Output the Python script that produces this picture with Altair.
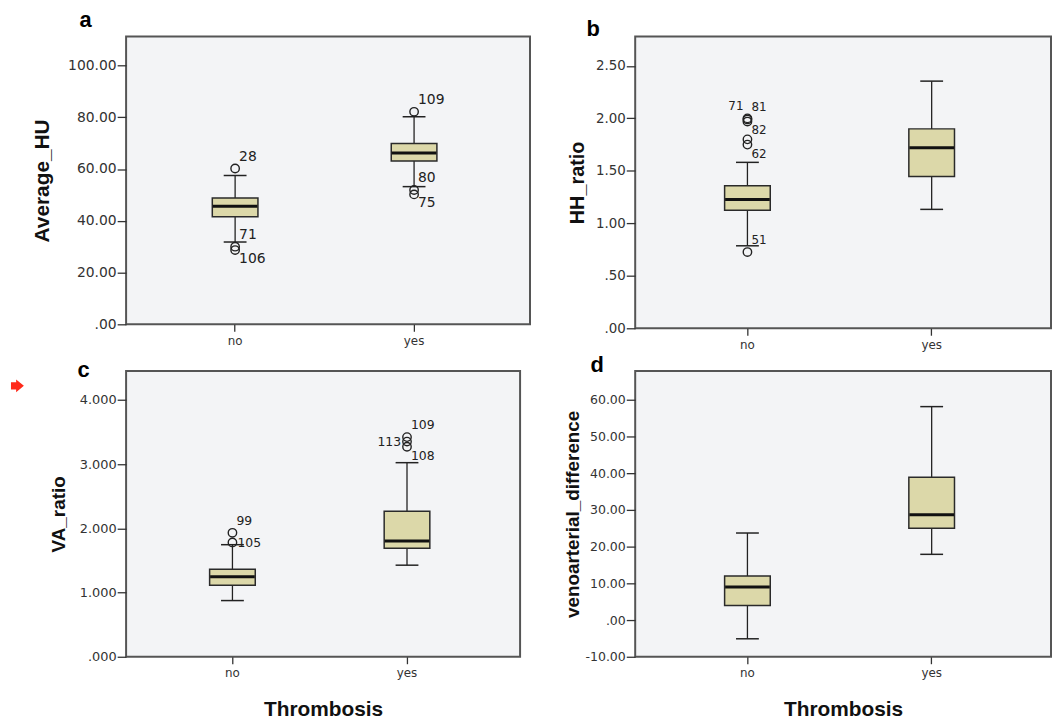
import altair as alt
import pandas as pd

# ---------------- data ----------------
groups = ["no", "yes"]

# panel a: Average_HU
a_lo = [31.8, 53.2]
a_q1 = [41.6, 63.1]
a_med = [45.6, 66.2]
a_q3 = [48.8, 69.9]
a_hi = [57.5, 80.2]
a_out_group = ["no", "no", "no", "yes", "yes", "yes"]
a_out_value = [60.2, 30.0, 28.7, 82.1, 51.9, 50.2]
a_out_label = ["28", "71", "106", "109", "80", "75"]
a_out_pos = ["ne", "ne", "se", "ne", "ne", "se"]

# panel b: HH_ratio
b_lo = [0.786, 1.133]
b_q1 = [1.124, 1.446]
b_med = [1.228, 1.72]
b_q3 = [1.357, 1.90]
b_hi = [1.581, 2.355]
b_out_group = ["no", "no", "no", "no", "no", "no"]
b_out_value = [2.00, 1.99, 1.97, 1.80, 1.75, 0.726]
b_out_label = ["71", "81", "82", "", "62", "51"]
b_out_pos = ["nw", "ne", "se", "none", "se", "ne"]

# panel c: VA_ratio
c_lo = [0.875, 1.426]
c_q1 = [1.112, 1.689]
c_med = [1.246, 1.802]
c_q3 = [1.364, 2.265]
c_hi = [1.745, 3.022]
c_out_group = ["no", "no", "yes", "yes", "yes"]
c_out_value = [1.93, 1.78, 3.42, 3.35, 3.27]
c_out_label = ["99", "105", "109", "113", "108"]
c_out_pos = ["ne", "e", "ne", "w", "se"]

# panel d: venoarterial_difference
d_lo = [-5.1, 17.92]
d_q1 = [3.96, 25.0]
d_med = [9.04, 28.71]
d_q3 = [12.03, 38.96]
d_hi = [23.73, 58.18]
d_out_group = []
d_out_value = []
d_out_label = []
d_out_pos = []

a_ticks = [0, 20, 40, 60, 80, 100]
b_ticks = [0, 0.5, 1.0, 1.5, 2.0, 2.5]
c_ticks = [0, 1, 2, 3, 4]
d_ticks = [-10, 0, 10, 20, 30, 40, 50, 60]

BOX_FILL = "#DCD8A9"
LINE = "#222222"
LABEL_FONT = "DejaVu Sans"
TITLE_FONT = "Liberation Sans"

PLACE = {
    "ne": dict(align="left", dx=4, dy=-8),
    "nw": dict(align="right", dx=-4, dy=-8),
    "e": dict(align="left", dx=5, dy=5),
    "w": dict(align="right", dx=-6, dy=4),
    "se": dict(align="left", dx=4, dy=13),
}


def label_expr(decimals):
    f = "format(abs(datum.value), '.%df')" % decimals
    return ("datum.value < 0 ? '-' + %s : (datum.value < 1 ? substring(%s, 1) : %s)"
            % (f, f, f))


def panel(letter, letter_pos, lo, q1, med, q3, hi, og, ov, ol, op,
          domain, ticks, decimals, ytitle, ytitle_size, ytitle_pad,
          label_size, out_size, xtitle, width, height, extra=None):
    box = pd.DataFrame({"group": groups, "lo": lo, "q1": q1, "med": med,
                        "q3": q3, "hi": hi})
    out = pd.DataFrame({"group": og, "value": ov, "label": ol, "pos": op})

    xscale = alt.Scale(domain=groups, paddingInner=0, paddingOuter=0.1285,
                       align=0.425)
    xaxis_kwargs = dict(labelAngle=0, labelFont=LABEL_FONT, labelFontSize=12,
                        labelColor="#333", tickSize=7, tickColor="#333",
                        tickWidth=1.3, labelPadding=4, domain=False, grid=False)
    if xtitle:
        xaxis = alt.Axis(title=xtitle, titleFont=TITLE_FONT, titleFontSize=21,
                         titleFontWeight="bold", titleColor="#111",
                         titlePadding=20, **xaxis_kwargs)
    else:
        xaxis = alt.Axis(title=None, **xaxis_kwargs)
    x = alt.X("group:N", scale=xscale, axis=xaxis)

    yscale = alt.Scale(domain=domain, nice=False, zero=False)
    yaxis = alt.Axis(title=ytitle, values=ticks, labelExpr=label_expr(decimals),
                     labelFont=LABEL_FONT, labelFontSize=label_size,
                     labelColor="#333", tickSize=9, tickColor="#333",
                     tickWidth=1.3, labelPadding=1, domain=False, grid=False,
                     titleFont=TITLE_FONT, titleFontSize=ytitle_size,
                     titleFontWeight="bold", titleColor="#111",
                     titlePadding=ytitle_pad)

    def Y(field):
        return alt.Y(field, scale=yscale, axis=yaxis)

    base = alt.Chart(box)
    whisker = base.mark_rule(color=LINE, strokeWidth=1.3, opacity=1).encode(
        x=x, y=Y("lo:Q"), y2="hi:Q")
    cap_lo = base.mark_tick(size=23, thickness=1.5, color=LINE, opacity=1).encode(
        x=x, y=Y("lo:Q"))
    cap_hi = base.mark_tick(size=23, thickness=1.5, color=LINE, opacity=1).encode(
        x=x, y=Y("hi:Q"))
    boxes = base.mark_bar(size=46, fill=BOX_FILL, stroke="#2a2a2a",
                          strokeWidth=1.5, opacity=1).encode(
        x=x, y=Y("q1:Q"), y2="q3:Q")
    median = base.mark_tick(size=45, thickness=3, color="#111", opacity=1).encode(
        x=x, y=Y("med:Q"))
    layers = [whisker, cap_lo, cap_hi, boxes, median]

    if len(out):
        ob = alt.Chart(out)
        layers.append(ob.mark_point(shape="circle", filled=False, size=72,
                                    stroke=LINE, strokeWidth=1.4,
                                    opacity=1).encode(
            x=x, y=Y("value:Q")))
        for key, p in PLACE.items():
            if key in op:
                layers.append(
                    ob.transform_filter(alt.datum.pos == key).mark_text(
                        font=LABEL_FONT, fontSize=out_size, color="#222",
                        baseline="alphabetic", **p).encode(
                        x=x, y=Y("value:Q"), text="label:N"))

    lt = alt.Chart(pd.DataFrame({"t": [letter]})).mark_text(
        font=TITLE_FONT, fontSize=22, fontWeight="bold", color="#000",
        align="left", baseline="alphabetic").encode(
        text="t:N", x=alt.value(letter_pos[0]), y=alt.value(letter_pos[1]))
    layers.append(lt)
    if extra is not None:
        layers.append(extra)

    return alt.layer(*layers).properties(width=width, height=height)


arrow = alt.Chart(pd.DataFrame({"k": [1]})).mark_point(
    shape="M -1 -0.55 L -0.2 -0.55 L -0.2 -1 L 1 0 L -0.2 1 L -0.2 0.55 L -1 0.55 Z",
    filled=True, fill="#ff2a1a", size=169, strokeWidth=0, opacity=1).encode(
    x=alt.value(-109.5), y=alt.value(15))

pa = panel("a", (-47, -10), a_lo, a_q1, a_med, a_q3, a_hi,
           a_out_group, a_out_value, a_out_label, a_out_pos,
           [0, 111.2], a_ticks, 2, "Average_HU", 21, 15, 14, 14, None, 407, 290)
pb = panel("b", (-49, -1), b_lo, b_q1, b_med, b_q3, b_hi,
           b_out_group, b_out_value, b_out_label, b_out_pos,
           [0, 2.78], b_ticks, 2, "HH_ratio", 20, 8, 13.5, 12, None, 419, 294)
pc = panel("c", (-49, 6), c_lo, c_q1, c_med, c_q3, c_hi,
           c_out_group, c_out_value, c_out_label, c_out_pos,
           [0, 4.45], c_ticks, 3, "VA_ratio", 19, 11, 13, 12.5, "Thrombosis",
           397, 288, extra=arrow)
pd_ = panel("d", (-45, 1), d_lo, d_q1, d_med, d_q3, d_hi,
            d_out_group, d_out_value, d_out_label, d_out_pos,
            [-10, 67.9], d_ticks, 2, "venoarterial_difference", 19, 3, 12.6,
            12, "Thrombosis", 419, 288)

chart = alt.concat(pa, pb, pc, pd_, columns=2, bounds="flush",
                   spacing={"row": 43, "column": 106}).properties(
    padding={"left": 2, "top": -3, "right": 0, "bottom": 0},
    background="#ffffff",
).configure_view(fill="#F3F4F6", stroke="#555555", strokeWidth=2)

chart.save("out.html", embed_options={"renderer": "svg", "actions": False})
